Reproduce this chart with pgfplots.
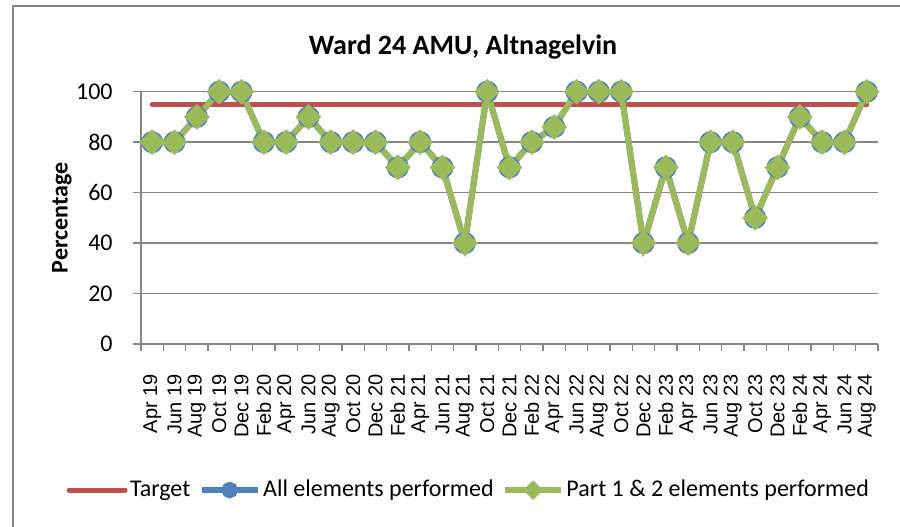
\documentclass[border=0pt]{standalone}
\usepackage{fontspec}
\setmainfont{Carlito}
\newfontfamily\arialfont{Liberation Sans}
\usepackage{pgfplots}
\pgfplotsset{compat=1.18}
\definecolor{tgt}{HTML}{C0504D}
\definecolor{allc}{HTML}{4F81BD}
\definecolor{partc}{HTML}{9BBB59}
\definecolor{gridc}{HTML}{868686}
\pgfplotstableread{
x y
0 80
1 80
2 90
3 100
4 100
5 80
6 80
7 90
8 80
9 80
10 80
11 70
12 80
13 70
14 40
15 100
16 70
17 80
18 86
19 100
20 100
21 100
22 40
23 70
24 40
25 80
26 80
27 50
28 70
29 90
30 80
31 80
32 100
}\alldata
\pgfplotstableread{
x y
0 80
1 80
2 90
3 100
4 100
5 80
6 80
7 90
8 80
9 80
10 80
11 70
12 80
13 70
14 40
15 100
16 70
17 80
18 86
19 100
20 100
21 100
22 40
23 70
24 40
25 80
26 80
27 50
28 70
29 90
30 80
31 80
32 100
}\partdata
\begin{document}
\begin{tikzpicture}
\useasboundingbox (0pt,0pt) rectangle (450pt,263pt);
\draw[gridc, line width=0.75pt] (6.5pt,260pt) rectangle (470pt,-20pt);
\node[font=\bfseries\fontsize{14}{17}\selectfont] at (231.5pt,239.5pt) {Ward 24 AMU, Altnagelvin};
\node[font=\bfseries\fontsize{12}{14}\selectfont, rotate=90] at (31pt,154pt) {Percentage};
\begin{axis}[
  at={(70.5pt,91pt)}, anchor=south west, scale only axis,
  width=368.5pt, height=126.15pt,
  xmin=-0.5, xmax=32.5, ymin=0, ymax=100,
  axis x line*=bottom, axis y line*=left,
  axis line style={gridc, line width=0.75pt, -},
  ymajorgrids, grid style={gridc, line width=0.75pt},
  xtick={0,...,32},
  xticklabels={Apr 19,Jun 19,Aug 19,Oct 19,Dec 19,Feb 20,Apr 20,Jun 20,Aug 20,Oct 20,Dec 20,Feb 21,Apr 21,Jun 21,Aug 21,Oct 21,Dec 21,Feb 22,Apr 22,Jun 22,Aug 22,Oct 22,Dec 22,Feb 23,Apr 23,Jun 23,Aug 23,Oct 23,Dec 23,Feb 24,Apr 24,Jun 24,Aug 24},
  major x tick style={draw=none},
  minor xtick={-0.5,0.5,...,32.5},
  minor tick length=3.5pt,
  ytick={0,20,...,100},
  major tick length=4pt,
  tick align=outside,
  tick style={gridc, line width=0.75pt},
  /pgf/number format/assume math mode=true,
  xticklabel shift=11pt,
  xticklabel style={rotate=90, anchor=east, font=\arialfont\fontsize{10}{12}\selectfont, inner sep=0pt},
  yticklabel style={anchor=east, inner sep=0pt, xshift=-10pt, font=\fontsize{12}{14}\selectfont},
  legend style={at={(0.445,-0.579)}, anchor=center, legend columns=3, draw=none, fill=none,
    font=\fontsize{12}{14}\selectfont, /tikz/every even column/.append style={column sep=3pt},
    nodes={inner sep=1.2pt}},
  legend cell align=left,
  legend image code/.code={\draw[mark repeat=2,mark phase=2,#1, every mark/.append style={scale=0.65}] plot coordinates {(0pt,0pt) (14pt,0pt) (28pt,0pt)};},
]
\addplot[tgt, line width=2.5pt, line cap=round, no markers] coordinates {(0,95) (32,95)};
\addlegendentry{Target}
\addplot[allc, line width=3pt, mark=*, mark size=4pt, mark options={solid, draw=none, fill=allc}] table[x=x,y=y] {\alldata};
\addlegendentry{All elements performed}
\addplot[partc, line width=3pt, mark=square*, mark size=3.05pt, mark options={solid, draw=none, fill=partc, rotate=45}] table[x=x,y=y] {\partdata};
\addlegendentry{Part 1 \& 2 elements performed}
\end{axis}
\end{tikzpicture}
\end{document}
